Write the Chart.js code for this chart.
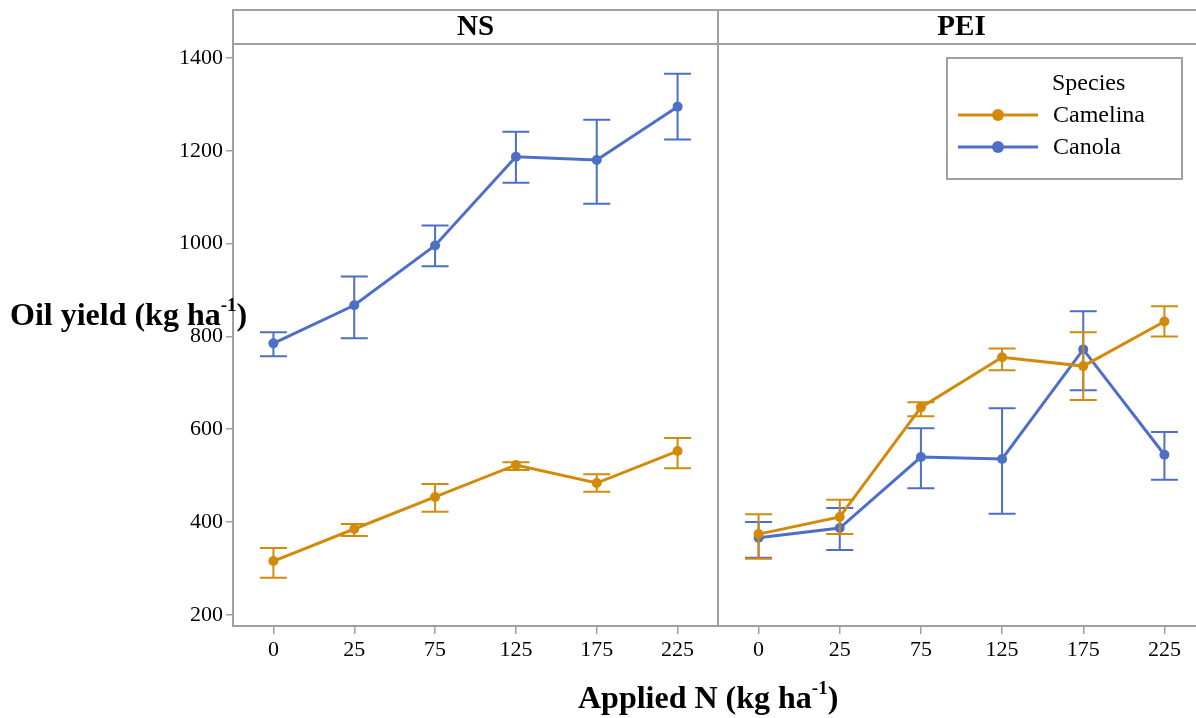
<!DOCTYPE html>
<html><head><meta charset="utf-8">
<script src="https://cdn.jsdelivr.net/npm/chart.js@4/dist/chart.umd.min.js"></script>
<style>
html,body{margin:0;padding:0;background:#fff;overflow:hidden;width:1196px;height:718px}
#wrap{position:relative;width:1196px;height:718px;overflow:hidden;background:#fff}
#c1{position:absolute;left:0;top:0}
#c2{position:absolute;left:713px;top:0}
.t{position:absolute;font-family:'Liberation Serif','Times New Roman',serif;font-weight:bold;color:#000;white-space:nowrap;font-size:32px;line-height:1}
.t sup{font-size:19px;vertical-align:top;position:relative;top:-3px}
</style>
</head><body>
<div id="wrap">
<canvas id="c1" width="723" height="718"></canvas>
<canvas id="c2" width="497" height="718"></canvas>
<div class="t" id="ytitle" style="left:10px;top:298px">Oil yield (kg ha<sup>-1</sup>)</div>
<div class="t" id="xtitle" style="left:578px;top:681px">Applied N (kg ha<sup>-1</sup>)</div>
</div>
<script>
// ---- data ----
const categories = ['0','25','75','125','175','225'];
const yTicks = [200,400,600,800,1000,1200,1400];
const seriesNames = ['Camelina','Canola'];

const nsCamelina   = [316,385,454,523,484,553];
const nsCamelinaLo = [280,370,422,512,465,516];
const nsCamelinaHi = [344,396,482,529,503,581];
const nsCanola     = [785,867,996,1187,1180,1295];
const nsCanolaLo   = [757,796,951,1131,1086,1224];
const nsCanolaHi   = [809,929,1039,1241,1267,1366];

const peiCamelina   = [374,411,647,755,736,832];
const peiCamelinaLo = [321,374,628,727,663,800];
const peiCamelinaHi = [417,448,658,774,809,865];
const peiCanola     = [366,387,540,536,772,545];
const peiCanolaLo   = [323,340,473,418,684,491];
const peiCanolaHi   = [400,430,602,645,854,594];

const COL_CAM = '#d38a0b';
const COL_CAN = '#4d6fc8';
const GREY = '#a0a0a0';
const FONT = "'Liberation Serif','Times New Roman',serif";

const errPlugin = {
  id:'errbars',
  afterDatasetDraw(chart, args){
    const ds = chart.data.datasets[args.index];
    const meta = args.meta;
    const y = chart.scales.y;
    const ctx = chart.ctx;
    ctx.save();
    ctx.strokeStyle = ds.borderColor;
    ctx.lineWidth = 2;
    meta.data.forEach((pt,i)=>{
      const x = pt.x;
      const yl = y.getPixelForValue(ds.errLo[i]);
      const yh = y.getPixelForValue(ds.errHi[i]);
      ctx.beginPath();
      ctx.moveTo(x,yl); ctx.lineTo(x,yh);
      ctx.moveTo(x-13.5,yl); ctx.lineTo(x+13.5,yl);
      ctx.moveTo(x-13.5,yh); ctx.lineTo(x+13.5,yh);
      ctx.stroke();
    });
    ctx.restore();
  }
};

const panelPlugin = {
  id:'panel',
  afterDraw(chart, args, opts){
    const a = chart.chartArea, ctx = chart.ctx;
    ctx.save();
    ctx.strokeStyle = GREY; ctx.lineWidth = 2;
    ctx.strokeRect(a.left, 10, a.right-a.left, a.bottom-10);
    ctx.beginPath(); ctx.moveTo(a.left,44); ctx.lineTo(a.right,44); ctx.stroke();
    ctx.fillStyle = '#000';
    ctx.font = 'bold 29px ' + FONT;
    ctx.textAlign = 'center'; ctx.textBaseline = 'middle';
    ctx.fillText(opts.label, (a.left+a.right)/2, 28);
    if (opts.legend) {
      const L = opts.legend;
      ctx.strokeStyle = GREY; ctx.lineWidth = 2;
      ctx.strokeRect(L.x, L.y, L.w, L.h);
      ctx.font = '24px ' + FONT;
      ctx.textAlign = 'left';
      ctx.fillText('Species', L.x+105, L.y+26);
      chart.data.datasets.forEach((ds,i)=>{
        const yy = L.y + 57 + i*32;
        ctx.strokeStyle = ds.borderColor; ctx.lineWidth = 3;
        ctx.beginPath(); ctx.moveTo(L.x+11, yy); ctx.lineTo(L.x+91, yy); ctx.stroke();
        ctx.fillStyle = ds.borderColor;
        ctx.beginPath(); ctx.arc(L.x+51, yy, 6, 0, Math.PI*2); ctx.fill();
        ctx.fillStyle = '#000';
        ctx.fillText(ds.label, L.x+106, yy+1);
      });
    }
    ctx.restore();
  }
};

function mkDs(label, data, lo, hi, color){
  return {label, data, errLo:lo, errHi:hi, borderColor:color, backgroundColor:color,
    borderWidth:3, pointRadius:5, pointHoverRadius:5, pointBorderWidth:0, tension:0, clip:false};
}

function mkOpts(showY, label, legend, padLeft){
  return {
    responsive:false, animation:false, devicePixelRatio:1,
    layout:{padding:{left:padLeft, right:2, top:44, bottom:0}},
    plugins:{legend:{display:false}, tooltip:{enabled:false}, panel:{label, legend}},
    scales:{
      x:{type:'category', offset:true,
        afterFit(s){ s.height = 92; },
        grid:{drawOnChartArea:false, tickLength:8, color:GREY, lineWidth:1.5, offset:false},
        border:{display:false},
        ticks:{color:'#000', font:{family:FONT, size:22}, padding:3, maxRotation:0}
      },
      y:{type:'linear', display:showY, min:176, max:1430,
        afterBuildTicks(s){ s.ticks = yTicks.map(v=>({value:v})); },
        afterFit(s){ if (showY) s.width = 233; },
        grid:{drawOnChartArea:false, tickLength:7, color:GREY, lineWidth:1.5},
        border:{display:false},
        ticks:{color:'#000', font:{family:FONT, size:22}, padding:3, callback:(v)=>String(v)}
      }
    }
  };
}

new Chart(document.getElementById('c1'), {
  type:'line',
  data:{labels:categories, datasets:[
    mkDs(seriesNames[0], nsCamelina, nsCamelinaLo, nsCamelinaHi, COL_CAM),
    mkDs(seriesNames[1], nsCanola, nsCanolaLo, nsCanolaHi, COL_CAN)
  ]},
  options: mkOpts(true, 'NS', null, 0),
  plugins:[errPlugin, panelPlugin]
});

new Chart(document.getElementById('c2'), {
  type:'line',
  data:{labels:categories, datasets:[
    mkDs(seriesNames[0], peiCamelina, peiCamelinaLo, peiCamelinaHi, COL_CAM),
    mkDs(seriesNames[1], peiCanola, peiCanolaLo, peiCanolaHi, COL_CAN)
  ]},
  options: mkOpts(false, 'PEI', {x:234, y:58, w:235, h:121}, 1),
  plugins:[errPlugin, panelPlugin]
});
</script>
</body></html>
